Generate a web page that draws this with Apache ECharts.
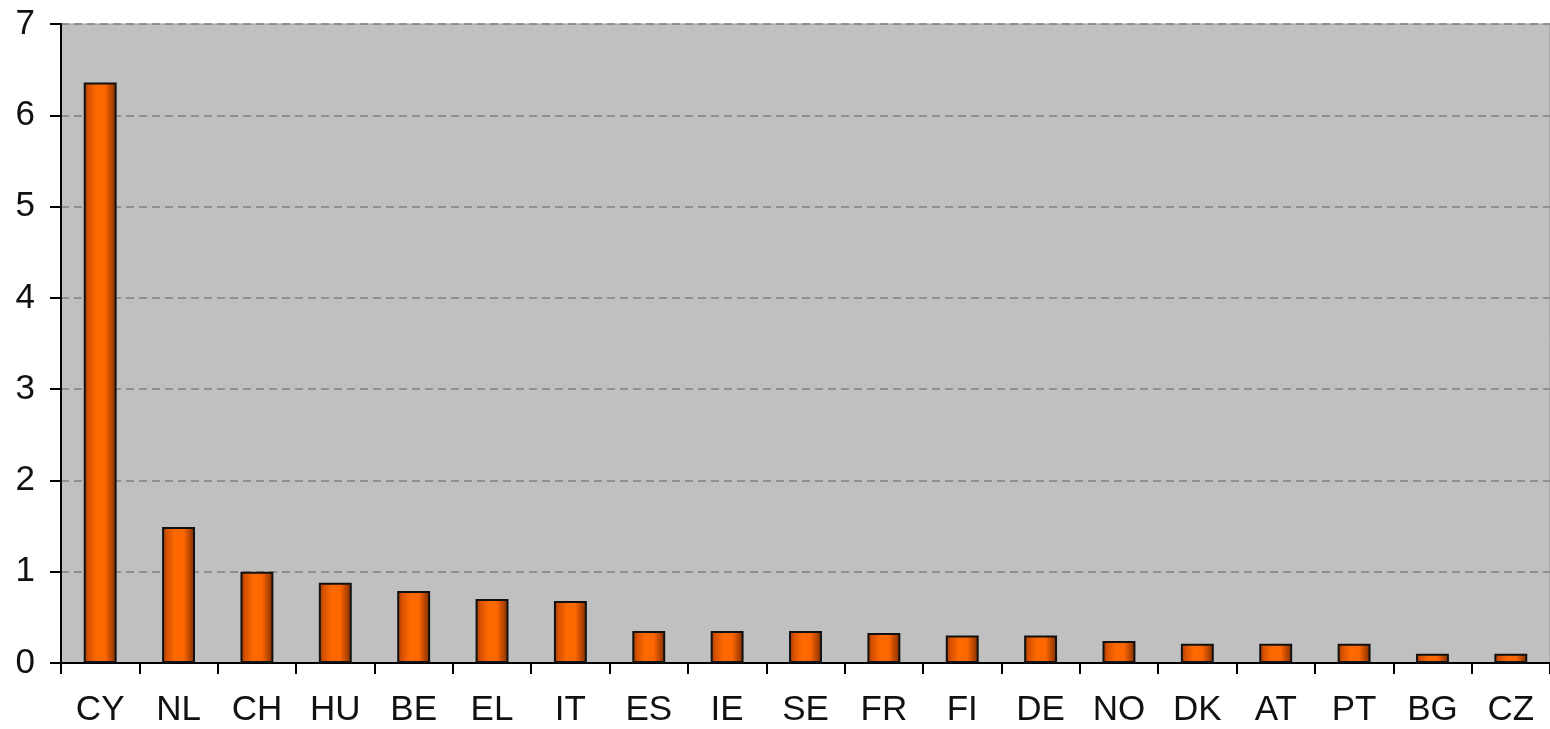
<!DOCTYPE html>
<html>
<head>
<meta charset="utf-8">
<script src="https://cdn.jsdelivr.net/npm/echarts@6/dist/echarts.min.js"></script>
<style>html,body{margin:0;padding:0;background:#fff}#c{width:1550px;height:729px}</style>
</head>
<body>
<div id="c"></div>
<script>
var categories = ['CY','NL','CH','HU','BE','EL','IT','ES','IE','SE','FR','FI','DE','NO','DK','AT','PT','BG','CZ'];
var values = [6.36, 1.49, 1.0, 0.88, 0.79, 0.70, 0.68, 0.35, 0.35, 0.35, 0.33, 0.30, 0.30, 0.24, 0.21, 0.21, 0.21, 0.10, 0.10];
var yTicks = [0, 1, 2, 3, 4, 5, 6, 7];

var chart = echarts.init(document.getElementById('c'), null, {renderer: 'canvas'});
chart.setOption({
  animation: false,
  grid: {
    left: 61, right: 0, top: 24, bottom: 66,
    show: true, backgroundColor: '#c0c0c0', borderColor: '#999999', borderWidth: 1
  },
  xAxis: {
    type: 'category',
    data: categories,
    boundaryGap: true,
    axisLine: {show: true, lineStyle: {color: '#000', width: 2}},
    axisTick: {show: true, length: 11, inside: false, lineStyle: {color: '#000', width: 2}},
    axisLabel: {fontFamily: 'Liberation Sans, Arial, sans-serif', fontSize: 35, color: '#111', margin: 30}
  },
  yAxis: {
    type: 'value',
    min: yTicks[0], max: yTicks[yTicks.length - 1], interval: 1,
    axisLine: {show: true, lineStyle: {color: '#000', width: 2}},
    axisTick: {show: true, length: 11, inside: false, lineStyle: {color: '#000', width: 2}},
    axisLabel: {fontFamily: 'Liberation Sans, Arial, sans-serif', fontSize: 35, color: '#111', margin: 26},
    splitLine: {show: true, lineStyle: {color: '#808080', width: 1.5, type: [8, 5]}}
  },
  series: [{
    type: 'bar',
    data: values,
    barWidth: '42%',
    itemStyle: {
      borderColor: '#111',
      borderWidth: 2,
      color: new echarts.graphic.LinearGradient(0, 0, 1, 0, [
        {offset: 0, color: '#9a3a00'},
        {offset: 0.15, color: '#d85200'},
        {offset: 0.4, color: '#ff6a00'},
        {offset: 0.65, color: '#ff6600'},
        {offset: 1, color: '#7a2c00'}
      ])
    }
  }]
});
</script>
</body>
</html>
